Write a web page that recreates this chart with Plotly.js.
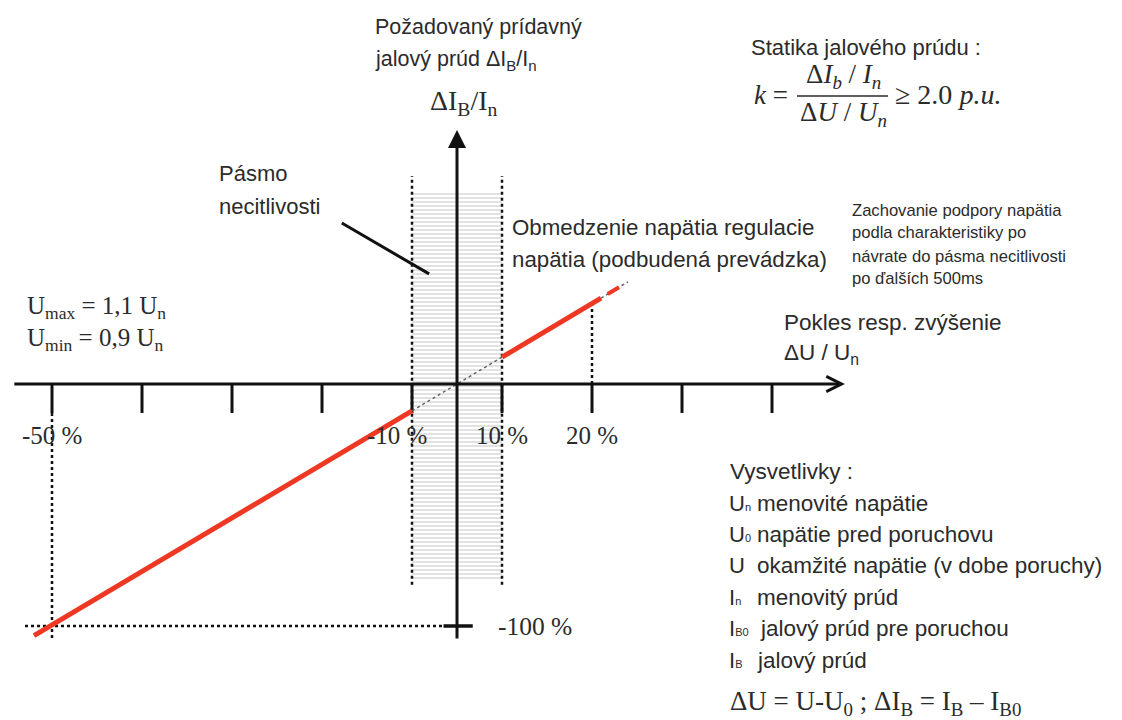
<!DOCTYPE html>
<html>
<head>
<meta charset="utf-8">
<script src="https://cdn.plot.ly/plotly-3.0.1.min.js"></script>
<style>
  html, body { margin: 0; padding: 0; background: #fff; }
  #chart { width: 1122px; height: 720px; }
</style>
</head>
<body>
<div id="chart"></div>
<script>
// schematic x units (one unit = half a tick step), y in % of In
var tickPos = [-9, -7, -5, -3, -1, 1, 3, 5, 7];
var labelPos = [-9, -1, 1, 3];
var labelText = ['-50 %', '-10 %', '10 %', '20 %'];

var redLowX = [-9.4, -1];
var redLowY = [-104, -11.1];
var redHighX = [1, 3.2];
var redHighY = [11.1, 35.5];
var redTipX = [3.35, 3.6];
var redTipY = [37.2, 40];
var dotMidX = [-1, 1];
var dotMidY = [-11.1, 11.1];
var dotTailX = [3.2, 3.8];
var dotTailY = [35.5, 42.2];

var bandX = [-1, 1];
var bandY = [-81, 79];
var bandEdgeY = [-83, 86];

var legendSym = ['U', 'U', 'U', 'I', 'I', 'I'];
var legendSub = ['n', '0', '', 'n', 'B0', 'B'];
var legendText = ['menovité napätie', 'napätie pred poruchovu', 'okamžité napätie (v dobe poruchy)',
                  'menovitý prúd', 'jalový prúd pre poruchou', 'jalový prúd'];

var W = 1122, H = 720;
var SANS = 'Liberation Sans, Arial, sans-serif';
var SERIF = 'Liberation Serif, Times New Roman, serif';
var RED = 'rgb(238,56,36)';

function txt(x, y, text, size, family, extra) {
    var a = {
        xref: 'paper', yref: 'paper',
        x: x / W, y: 1 - y / H,
        xanchor: 'left', yanchor: 'middle',
        text: text, showarrow: false,
        font: { family: family || SANS, size: size, color: '#2b2b2b' }
    };
    for (var k in extra) a[k] = extra[k];
    return a;
}

function seg(x, y, color, width, dash) {
    return { x: x, y: y, mode: 'lines', type: 'scatter', hoverinfo: 'skip',
             line: { color: color, width: width, dash: dash || 'solid' } };
}

// tick marks below the axis
var tx = [], ty = [];
tickPos.forEach(function (t) { tx.push(t, t, null); ty.push(0, -12, null); });

var data = [
    {
        x: [bandX[0], bandX[1], bandX[1], bandX[0], bandX[0]],
        y: [bandY[1], bandY[1], bandY[0], bandY[0], bandY[1]],
        type: 'scatter', mode: 'lines', fill: 'toself', hoverinfo: 'skip',
        line: { width: 0, color: 'rgba(0,0,0,0)' },
        fillcolor: 'rgba(0,0,0,0)',
        fillpattern: { shape: '-', size: 4, solidity: 0.3, fgcolor: '#cfcfcf', bgcolor: '#fff' }
    },
    seg([bandX[0], bandX[0]], bandEdgeY, '#111', 2.5, 'dot'),
    seg([bandX[1], bandX[1]], bandEdgeY, '#111', 2.5, 'dot'),
    seg([labelPos[0], labelPos[0]], [-12, -106], '#111', 2.5, 'dot'),
    seg([-9.6, -0.25], [-100, -100], '#111', 2.5, 'dot'),
    seg([labelPos[3], labelPos[3]], [0, 33.5], '#111', 2.5, 'dot'),
    seg(tx, ty, '#111', 3),
    seg([-0.3, 0.35], [-100, -100], '#111', 3.5),
    seg(dotMidX, dotMidY, '#666', 1.5, 'dot'),
    seg(dotTailX, dotTailY, '#666', 1.5, 'dot'),
    seg(redLowX, redLowY, RED, 5),
    seg(redHighX, redHighY, RED, 5),
    seg(redTipX, redTipY, RED, 4),
    seg([-2.56, -0.62], [66.5, 45.5], '#111', 3)
];

var annotations = [
    // axes with arrow heads
    { x: 8.62, y: 0, ax: -9.87, ay: 0, xref: 'x', yref: 'y', axref: 'x', ayref: 'y',
      text: '', showarrow: true, arrowhead: 5, arrowsize: 1, arrowwidth: 3, arrowcolor: '#111' },
    { x: 0, y: 105, ax: 0, ay: -105.8, xref: 'x', yref: 'y', axref: 'x', ayref: 'y',
      text: '', showarrow: true, arrowhead: 2, arrowsize: 1.2, arrowwidth: 3, arrowcolor: '#111' },

    txt(373, 27, 'Požadovaný prídavný', 21.5),
    txt(373, 60, 'jalový prúd ΔI<sub>B</sub>/I<sub>n</sub>', 21.5),
    txt(428, 103, 'ΔI<sub>B</sub>/I<sub>n</sub>', 28, SERIF),

    txt(749, 48, 'Statika jalového prúdu :', 22),
    txt(752, 95, '<i>k</i> =', 27, SERIF),
    txt(843, 76, 'Δ<i>I<sub>b</sub></i> / <i>I<sub>n</sub></i>', 27, SERIF, { xanchor: 'center' }),
    txt(843, 114, 'Δ<i>U</i> / <i>U<sub>n</sub></i>', 27, SERIF, { xanchor: 'center' }),
    txt(893, 95, '≥ 2.0 <i>p.u.</i>', 28, SERIF),

    txt(217, 173, 'Pásmo', 22),
    txt(217, 207, 'necitlivosti', 22),

    txt(510, 227, 'Obmedzenie napätia regulacie', 22.3),
    txt(510, 259, 'napätia (podbudená prevádzka)', 22.3),

    txt(850, 210, 'Zachovanie podpory napätia', 16.6),
    txt(850, 233, 'podla charakteristiky po', 16.6),
    txt(850, 256, 'návrate do pásma necitlivosti', 16.6),
    txt(850, 279, 'po ďalších 500ms', 16.6),

    txt(25, 307, 'U<sub>max</sub> = 1,1 U<sub>n</sub>', 25, SERIF),
    txt(25, 339, 'U<sub>min</sub> = 0,9 U<sub>n</sub>', 25, SERIF),

    txt(782, 322, 'Pokles resp. zvýšenie', 22.5),
    txt(782, 354, 'ΔU / U<sub>n</sub>', 22.5),

    txt(496, 626, '-100 %', 25.5, SERIF),

    txt(728, 471, 'Vysvetlivky :', 22.5),
    txt(728, 703, 'ΔU = U-U<sub>0</sub> ; ΔI<sub>B</sub> = I<sub>B</sub> – I<sub>B0</sub>', 27, SERIF)
];

labelPos.forEach(function (p, i) {
    annotations.push({
        x: p, y: 0, xref: 'x', yref: 'y', yshift: -51, xshift: p === -1 ? -15 : 0,
        xanchor: 'center', yanchor: 'middle', showarrow: false, text: labelText[i],
        font: { family: SERIF, size: 25, color: '#2b2b2b' }
    });
});

legendSym.forEach(function (s, i) {
    var y = 503 + i * 31.4;
    var sym = s + (legendSub[i] ? '<span style="font-size:11px">' + legendSub[i] + '</span>' : '');
    annotations.push(txt(727, y, sym, 22));
    annotations.push(txt(i === 4 ? 758 : 755, y, legendText[i], 22.5));
});

var layout = {
    width: W, height: H,
    margin: { l: 0, r: 0, t: 0, b: 0 },
    paper_bgcolor: '#fff', plot_bgcolor: '#fff',
    showlegend: false,
    xaxis: { range: [-457 / 45, 665 / 45], visible: false, fixedrange: true },
    yaxis: { range: [-336 / 2.42, 384 / 2.42], visible: false, fixedrange: true },
    shapes: [
        { type: 'line', xref: 'paper', yref: 'paper', x0: 797 / W, x1: 888 / W,
          y0: 1 - 96 / H, y1: 1 - 96 / H, line: { color: '#2b2b2b', width: 1.5 } }
    ],
    annotations: annotations
};

Plotly.newPlot('chart', data, layout, { displayModeBar: false, staticPlot: true });
</script>
</body>
</html>
